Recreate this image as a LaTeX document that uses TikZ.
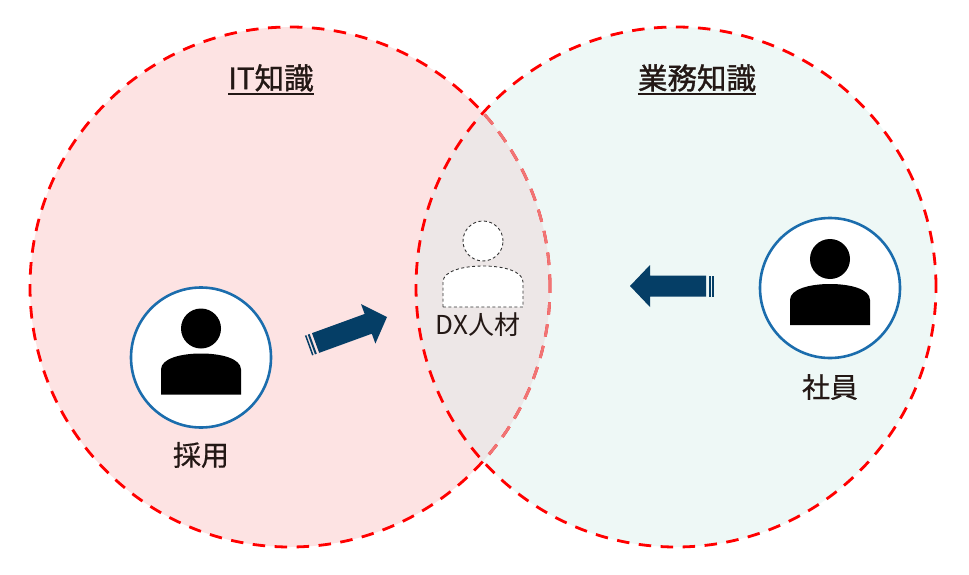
\documentclass[tikz,border=0pt]{standalone}
\usepackage{fontspec}
\setmainfont{Noto Sans CJK JP}
\newfontfamily\semibold[FakeBold=1.2]{Noto Sans CJK JP}
\newfontfamily\medium[FakeBold=0.6]{Noto Sans CJK JP}
\definecolor{pinkfill}{HTML}{FDE3E3}
\definecolor{cyanfill}{HTML}{EEF8F6}
\definecolor{lensfill}{HTML}{EDE7E7}
\definecolor{dashred}{HTML}{FF0000}
\definecolor{fadedred}{HTML}{F07575}
\definecolor{ringblue}{HTML}{1B6DAD}
\definecolor{arrowblue}{HTML}{053E66}
\definecolor{textdark}{HTML}{231815}
\begin{document}
\begin{tikzpicture}[x=1pt,y=-1pt,
  setborder/.style={dash pattern=on 12.5pt off 9.5pt, line width=2.8pt},
  ring/.style={circle, draw=ringblue, line width=2.6pt, fill=white, minimum size=140pt, inner sep=0pt},
  lbl/.style={text=textdark, font=\fontsize{28}{30}\selectfont\medium, inner sep=0pt},
  dxlbl/.style={text=textdark, font=\fontsize{26}{28}\selectfont, inner sep=0pt},
  ttl/.style={text=textdark, font=\fontsize{29.5}{31}\selectfont\semibold, inner sep=0pt},
  person/.pic={
    \path[pic actions] (0,-29) circle[radius=20pt];
    \path[pic actions] (-40,37) -- (-40,12) .. controls (-40,1) and (-20,-4) .. (0,-4)
       .. controls (20,-4) and (40,1) .. (40,12) -- (40,37) -- cycle;
  },
  stripearrow/.pic={
    \fill[arrowblue] (0,0) -- (-20,-21) -- (-20,-10.5) -- (-76,-10.5) -- (-76,10.5) -- (-20,10.5) -- (-20,21) -- cycle;
    \fill[arrowblue] (-78.5,-10.5) rectangle (-80.5,10.5);
    \fill[arrowblue] (-82,-10.5) rectangle (-83.5,10.5);
  }]
\useasboundingbox (0,0) rectangle (969,575);
% circle fills
\fill[pinkfill] (290,287) circle[radius=260pt];
\fill[cyanfill] (676,287) circle[radius=260pt];
\begin{scope}
  \clip (290,287) circle[radius=260pt];
  \fill[lensfill] (676,287) circle[radius=260pt];
\end{scope}
% circle borders
\draw[dashred, setborder] (290,287) circle[radius=260pt];
\begin{scope}
  \clip (676,287) circle[radius=260pt];
  \draw[fadedred, setborder] (290,287) circle[radius=260pt];
\end{scope}
\draw[dashred, setborder] (676,287) circle[radius=260pt];
% titles
\node[ttl] (titleIT) at (271,78) {IT知識};
\draw[textdark, line width=2.6pt] ([yshift=-2pt]titleIT.south west) -- ([yshift=-2pt]titleIT.south east);
\node[ttl] (titleBiz) at (697,78) {業務知識};
\draw[textdark, line width=2.6pt] ([yshift=-2pt]titleBiz.south west) -- ([yshift=-2pt]titleBiz.south east);
% left person
\node[ring] (recruit) at (201,357.5) {};
\pic[fill=black] at (recruit.center) {person};
\node[lbl] (recruitlbl) at (201,455) {採用};
% right person
\node[ring] (staff) at (830,288) {};
\pic[fill=black] at (staff.center) {person};
\node[lbl] (stafflbl) at (830,387) {社員};
% DX person
\coordinate (dx) at (483,270);
\pic[fill=white, draw=black!80, line width=0.9pt, dash pattern=on 3pt off 2.5pt] at (dx) {person};
\node[dxlbl] (dxlbl) at (478,325) {DX人材};
% arrows
\pic[rotate=20] at (387,317) {stripearrow};
\pic[rotate=180] at (630,286) {stripearrow};
\end{tikzpicture}
\end{document}
